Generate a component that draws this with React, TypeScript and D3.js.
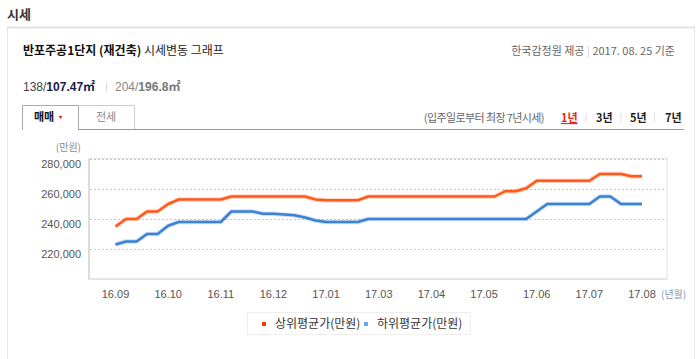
import React from "react";
import * as d3 from "d3";

const xLabels = ["16.09", "16.10", "16.11", "16.12", "17.01", "17.03", "17.04", "17.05", "17.06", "17.07", "17.08"];
const labelEvery = 5;

const upperAvg = [
  235000, 240000, 240000, 245000, 245000, 250000, 253000, 253000, 253000, 253000,
  253000, 255000, 255000, 255000, 255000, 255000, 255000, 255000, 255000, 253000,
  252500, 252500, 252500, 252500, 255000, 255000, 255000, 255000, 255000, 255000,
  255000, 255000, 255000, 255000, 255000, 255000, 255000, 258500, 258500, 260500,
  265500, 265500, 265500, 265500, 265500, 265500, 270000, 270000, 270000, 268500,
  268500,
];

const lowerAvg = [
  223000, 225000, 225000, 230000, 230000, 235500, 238000, 238000, 238000, 238000,
  238000, 245000, 245000, 245000, 243500, 243500, 243000, 242500, 241000, 239000,
  238000, 238000, 238000, 238000, 240000, 240000, 240000, 240000, 240000, 240000,
  240000, 240000, 240000, 240000, 240000, 240000, 240000, 240000, 240000, 240000,
  245000, 250000, 250000, 250000, 250000, 250000, 255000, 255000, 250000, 250000,
  250000,
];

const yTicks = [220000, 240000, 260000, 280000];
const seriesNames = ["상위평균가(만원)", "하위평균가(만원)"];
const periodTabs = ["1년", "3년", "5년", "7년"];

const KR = "'Noto Sans CJK KR', sans-serif";
const NUM = "'Liberation Sans', Arial, 'Noto Sans CJK KR', sans-serif";

const ORANGE = "#ff5a1c";
const BLUE = "#3a82d2";

export default function App() {
  const x = d3.scaleLinear().domain([0, upperAvg.length - 1]).range([115.5, 642]);
  const y = d3.scaleLinear().domain([200000, 280000]).range([279, 159]);
  const line = d3
    .line<number>()
    .x((_, i) => x(i))
    .y((d) => y(d));
  const fmt = d3.format(",");

  const plotL = 89;
  const plotR = 667;
  const plotT = y(280000) - 0.5;
  const plotB = 279;

  const tabXs = [561, 596, 630, 665];
  const sepXs = [586, 621, 654.5];

  return (
    <svg
      width={700}
      height={359}
      style={{ position: "absolute", left: 0, top: 0, display: "block", background: "#fff" }}
    >
      {/* section title */}
      <text x={7} y={19} fontFamily={KR} fontSize={13} fontWeight="bold" fill="#333">
        시세
      </text>

      {/* outer box */}
      <rect x={7.5} y={27.5} width={687} height={340} fill="none" stroke="#e6e6e6" strokeWidth={1} />
      <line x1={7} x2={695} y1={27.5} y2={27.5} stroke="#e3e3e3" strokeWidth={2} />

      {/* heading */}
      <text x={23} y={55} fontFamily={KR} fontSize={12} fill="#222">
        <tspan fontWeight="bold" fill="#111">반포주공1단지 (재건축)</tspan>
        <tspan> 시세변동 그래프</tspan>
      </text>
      <text x={675} y={55} fontFamily={KR} fontSize={11} fill="#666" textAnchor="end">
        <tspan>한국감정원 제공</tspan>
        <tspan fill="#ccc">{"  |  "}</tspan>
        <tspan>2017. 08. 25 기준</tspan>
      </text>

      {/* area sizes */}
      <text x={23} y={91} fontFamily={NUM} fontSize={12}>
        <tspan fill="#444">138/</tspan>
        <tspan fill="#1b1b4a" fontWeight="bold">107.47㎡</tspan>
      </text>
      <line x1={106.5} x2={106.5} y1={82} y2={92} stroke="#ddd" />
      <text x={115} y={91} fontFamily={NUM} fontSize={12}>
        <tspan fill="#888">204/</tspan>
        <tspan fill="#777" fontWeight="bold">196.8㎡</tspan>
      </text>

      {/* tabs */}
      <path d="M22.5,130 V105.5 H78.5 V130" fill="#fff" stroke="#aaa" />
      <path d="M78.5,105.5 H134.5 V129.5" fill="none" stroke="#ccc" />
      <line x1={78.5} x2={684} y1={129.5} y2={129.5} stroke="#999" />
      <text x={44} y={121} fontFamily={KR} fontSize={11} fontWeight="bold" fill="#111" textAnchor="middle">
        매매
      </text>
      <path d="M58.5,116 L62.5,116 L60.5,119 Z" fill="#e8281e" />
      <text x={106} y={121} fontFamily={KR} fontSize={11} fill="#888" textAnchor="middle">
        전세
      </text>

      <text x={544} y={122} fontFamily={KR} fontSize={11} fill="#666" textAnchor="end" letterSpacing={-0.6}>
        (입주일로부터 최장 7년시세)
      </text>
      {periodTabs.map((t, i) => (
        <text
          key={t}
          x={tabXs[i]}
          y={122}
          fontFamily={KR}
          fontSize={11}
          fontWeight="bold"
          fill={i === 0 ? "#e8281e" : "#222"}
          textDecoration={i === 0 ? "underline" : undefined}
        >
          {t}
        </text>
      ))}
      {sepXs.map((sx) => (
        <line key={sx} x1={sx} x2={sx} y1={113} y2={122} stroke="#ddd" />
      ))}

      {/* plot area */}
      <rect x={plotL} y={plotT} width={plotR - plotL} height={plotB - plotT} fill="#fff" stroke="#e2e2e2" />
      <line x1={plotL} x2={plotL} y1={plotT} y2={plotB + 1} stroke="#dcdcdc" strokeWidth={2} />
      <line x1={plotL} x2={plotR} y1={plotB} y2={plotB} stroke="#e4e4e4" strokeWidth={2} />
      {yTicks.map((v) => (
        <g key={v}>
          <line
            x1={plotL + 1}
            x2={plotR}
            y1={Math.round(y(v)) + 0.5}
            y2={Math.round(y(v)) + 0.5}
            stroke="#c8c8c8"
            strokeDasharray="2,2"
          />
          <text x={81} y={y(v) + 8.5} fontFamily={NUM} fontSize={11} fill="#555" textAnchor="end">
            {fmt(v)}
          </text>
        </g>
      ))}
      <text x={81} y={151} fontFamily={KR} fontSize={10} fill="#8a8a8a" textAnchor="end">
        (만원)
      </text>

      {xLabels.map((l, k) => (
        <text
          key={l}
          x={x(k * labelEvery)}
          y={298}
          fontFamily={NUM}
          fontSize={11}
          fill="#555"
          textAnchor="middle"
        >
          {l}
        </text>
      ))}
      <text x={661} y={298} fontFamily={KR} fontSize={10} fill="#7f93b3">
        (년월)
      </text>

      {/* lines */}
      <path d={line(upperAvg) || ""} fill="none" stroke={ORANGE} strokeOpacity={0.25} strokeWidth={4.5} strokeLinejoin="round" />
      <path d={line(upperAvg) || ""} fill="none" stroke={ORANGE} strokeWidth={2.5} strokeLinejoin="round" />
      <path d={line(lowerAvg) || ""} fill="none" stroke={BLUE} strokeOpacity={0.25} strokeWidth={4.5} strokeLinejoin="round" />
      <path d={line(lowerAvg) || ""} fill="none" stroke={BLUE} strokeWidth={2.5} strokeLinejoin="round" />

      {/* legend */}
      <rect x={247.5} y={312.5} width={223} height={22} fill="#fff" stroke="#eee" />
      <rect x={262} y={322} width={4} height={4} fill="#f4361c" />
      <text x={275} y={328} fontFamily={KR} fontSize={12} fill="#333">
        {seriesNames[0]}
      </text>
      <rect x={364} y={322} width={4} height={4} fill="#6ea7ee" />
      <text x={377} y={328} fontFamily={KR} fontSize={12} fill="#333">
        {seriesNames[1]}
      </text>
    </svg>
  );
}
